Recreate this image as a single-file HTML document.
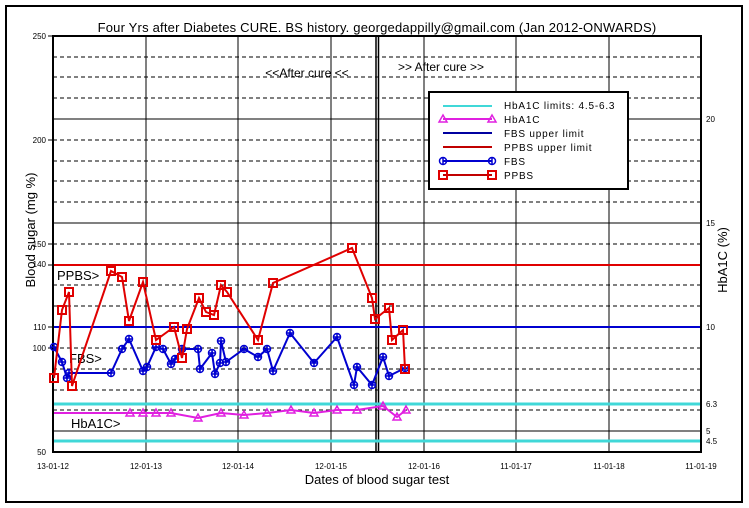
<!DOCTYPE html>
<html><head><meta charset="utf-8"><style>
body{margin:0;background:#fff}
svg{display:block;font-family:"Liberation Sans",Arial,sans-serif}
</style></head><body>
<svg width="749" height="508" viewBox="0 0 749 508" xmlns="http://www.w3.org/2000/svg">
<rect x="0" y="0" width="749" height="508" fill="#fff"/>
<rect x="6" y="6" width="736" height="496" fill="none" stroke="#000" stroke-width="2"/>
<text x="377" y="32" font-size="13" text-anchor="middle" letter-spacing="0.2">Four Yrs after Diabetes CURE. BS history. georgedappilly@gmail.com (Jan 2012-ONWARDS)</text>
<!-- dashed grid -->
<g stroke="#000" stroke-width="1" stroke-dasharray="4,3">
<line x1="53" x2="701" y1="57" y2="57"/><line x1="53" x2="701" y1="77" y2="77"/><line x1="53" x2="701" y1="98" y2="98"/>
<line x1="53" x2="701" y1="140" y2="140"/><line x1="53" x2="701" y1="161" y2="161"/><line x1="53" x2="701" y1="181" y2="181"/><line x1="53" x2="701" y1="202" y2="202"/>
<line x1="53" x2="701" y1="244" y2="244"/><line x1="53" x2="701" y1="285" y2="285"/><line x1="53" x2="701" y1="306" y2="306"/>
<line x1="53" x2="701" y1="348" y2="348"/><line x1="53" x2="701" y1="369" y2="369"/><line x1="53" x2="701" y1="390" y2="390"/><line x1="53" x2="701" y1="410" y2="410"/>
</g>
<g stroke="#000" stroke-width="1">
<line x1="53" x2="701" y1="119" y2="119"/><line x1="53" x2="701" y1="223" y2="223"/><line x1="53" x2="701" y1="431" y2="431"/>
<line x1="146" x2="146" y1="36" y2="452"/><line x1="238" x2="238" y1="36" y2="452"/><line x1="331" x2="331" y1="36" y2="452"/>
<line x1="424" x2="424" y1="36" y2="452"/><line x1="516" x2="516" y1="36" y2="452"/><line x1="609" x2="609" y1="36" y2="452"/>
<line x1="376" x2="376" y1="36" y2="452" stroke-width="1.5"/><line x1="378.5" x2="378.5" y1="36" y2="452" stroke-width="1.5"/>
<line x1="48" x2="53" y1="36" y2="36"/><line x1="48" x2="53" y1="140" y2="140"/><line x1="48" x2="53" y1="244" y2="244"/><line x1="48" x2="53" y1="265" y2="265"/><line x1="48" x2="53" y1="327" y2="327"/><line x1="48" x2="53" y1="348" y2="348"/>
</g>
<!-- limit lines -->
<line x1="53" x2="701" y1="404" y2="404" stroke="#40d8d8" stroke-width="3"/>
<line x1="53" x2="701" y1="441" y2="441" stroke="#40d8d8" stroke-width="3"/>
<line x1="53" x2="701" y1="265" y2="265" stroke="#e00000" stroke-width="2"/>
<line x1="53" x2="701" y1="327" y2="327" stroke="#0000d0" stroke-width="2"/>
<rect x="53" y="36" width="648" height="416" fill="none" stroke="#000" stroke-width="2"/>
<!-- left tick labels -->
<g font-size="8" text-anchor="end">
<text x="46" y="39">250</text><text x="46" y="143">200</text><text x="46" y="247">150</text><text x="46" y="267">140</text>
<text x="46" y="330">110</text><text x="46" y="351">100</text><text x="46" y="455">50</text>
</g>
<g font-size="8">
<text x="706" y="122">20</text><text x="706" y="226">15</text><text x="706" y="330">10</text><text x="706" y="407">6.3</text><text x="706" y="434">5</text><text x="706" y="444">4.5</text>
</g>
<g font-size="8" text-anchor="middle">
<text x="53" y="469">13-01-12</text><text x="146" y="469">12-01-13</text><text x="238" y="469">12-01-14</text><text x="331" y="469">12-01-15</text>
<text x="424" y="469">12-01-16</text><text x="516" y="469">11-01-17</text><text x="609" y="469">11-01-18</text><text x="701" y="469">11-01-19</text>
</g>
<text x="377" y="484" font-size="13" text-anchor="middle">Dates of blood sugar test</text>
<text transform="translate(35,230) rotate(-90)" font-size="13" text-anchor="middle">Blood sugar (mg %)</text>
<text transform="translate(727,260) rotate(-90)" font-size="13" text-anchor="middle">HbA1C (%)</text>
<text x="307" y="77" font-size="12" text-anchor="middle">&lt;&lt;After cure &lt;&lt;</text>
<text x="441" y="71" font-size="12" text-anchor="middle">&gt;&gt; After cure &gt;&gt;</text>
<text x="57" y="280" font-size="13">PPBS&gt;</text>
<text x="69" y="363" font-size="13">FBS&gt;</text>
<text x="71" y="428" font-size="13">HbA1C&gt;</text>
<!-- HbA1C -->
<polyline fill="none" stroke="#e020e0" stroke-width="2" points="54,413 130,413 143,413 156,413 171,413 198,418 221,413 244,415 267,413 291,410 314,413 337,410 357,410 383,406 397,417 406,410"/>
<g fill="none" stroke="#e020e0" stroke-width="1.5">
<path d="M130,409 l-4,7 h8z M143,409 l-4,7 h8z M156,409 l-4,7 h8z M171,409 l-4,7 h8z M198,414 l-4,7 h8z M221,409 l-4,7 h8z M244,411 l-4,7 h8z M267,409 l-4,7 h8z M291,406 l-4,7 h8z M314,409 l-4,7 h8z M337,406 l-4,7 h8z M357,406 l-4,7 h8z M383,402 l-4,7 h8z M397,413 l-4,7 h8z M406,406 l-4,7 h8z"/>
</g>
<!-- FBS -->
<polyline id="fbs" fill="none" stroke="#0000d0" stroke-width="2" points="54,347 62,362 67,378 69,373 111,373 122,349 129,339 143,371 147,367 156,347 163,349 171,364 175,359 182,349 198,349 200,369 212,353 215,374 220,363 221,341 226,362 244,349 258,357 267,349 273,371 290,333 314,363 337,337 354,385 357,367 372,385 383,357 389,376 405,368"/>
<g fill="none" stroke="#0000d0" stroke-width="1.5">
<g id="m">
</g>
</g>
<g stroke="#0000d0" stroke-width="1.5" fill="none">
<path d="M54,347m-3.5,0a3.5,3.5 0 1,0 7,0a3.5,3.5 0 1,0 -7,0m3.5,-3.5v7m-3.5,-3.5h7"/>
<path d="M62,362m-3.5,0a3.5,3.5 0 1,0 7,0a3.5,3.5 0 1,0 -7,0m3.5,-3.5v7m-3.5,-3.5h7"/>
<path d="M67,378m-3.5,0a3.5,3.5 0 1,0 7,0a3.5,3.5 0 1,0 -7,0m3.5,-3.5v7m-3.5,-3.5h7"/>
<path d="M69,373m-3.5,0a3.5,3.5 0 1,0 7,0a3.5,3.5 0 1,0 -7,0m3.5,-3.5v7m-3.5,-3.5h7"/>
<path d="M111,373m-3.5,0a3.5,3.5 0 1,0 7,0a3.5,3.5 0 1,0 -7,0m3.5,-3.5v7m-3.5,-3.5h7"/>
<path d="M122,349m-3.5,0a3.5,3.5 0 1,0 7,0a3.5,3.5 0 1,0 -7,0m3.5,-3.5v7m-3.5,-3.5h7"/>
<path d="M129,339m-3.5,0a3.5,3.5 0 1,0 7,0a3.5,3.5 0 1,0 -7,0m3.5,-3.5v7m-3.5,-3.5h7"/>
<path d="M143,371m-3.5,0a3.5,3.5 0 1,0 7,0a3.5,3.5 0 1,0 -7,0m3.5,-3.5v7m-3.5,-3.5h7"/>
<path d="M147,367m-3.5,0a3.5,3.5 0 1,0 7,0a3.5,3.5 0 1,0 -7,0m3.5,-3.5v7m-3.5,-3.5h7"/>
<path d="M156,347m-3.5,0a3.5,3.5 0 1,0 7,0a3.5,3.5 0 1,0 -7,0m3.5,-3.5v7m-3.5,-3.5h7"/>
<path d="M163,349m-3.5,0a3.5,3.5 0 1,0 7,0a3.5,3.5 0 1,0 -7,0m3.5,-3.5v7m-3.5,-3.5h7"/>
<path d="M171,364m-3.5,0a3.5,3.5 0 1,0 7,0a3.5,3.5 0 1,0 -7,0m3.5,-3.5v7m-3.5,-3.5h7"/>
<path d="M175,359m-3.5,0a3.5,3.5 0 1,0 7,0a3.5,3.5 0 1,0 -7,0m3.5,-3.5v7m-3.5,-3.5h7"/>
<path d="M182,349m-3.5,0a3.5,3.5 0 1,0 7,0a3.5,3.5 0 1,0 -7,0m3.5,-3.5v7m-3.5,-3.5h7"/>
<path d="M198,349m-3.5,0a3.5,3.5 0 1,0 7,0a3.5,3.5 0 1,0 -7,0m3.5,-3.5v7m-3.5,-3.5h7"/>
<path d="M200,369m-3.5,0a3.5,3.5 0 1,0 7,0a3.5,3.5 0 1,0 -7,0m3.5,-3.5v7m-3.5,-3.5h7"/>
<path d="M212,353m-3.5,0a3.5,3.5 0 1,0 7,0a3.5,3.5 0 1,0 -7,0m3.5,-3.5v7m-3.5,-3.5h7"/>
<path d="M215,374m-3.5,0a3.5,3.5 0 1,0 7,0a3.5,3.5 0 1,0 -7,0m3.5,-3.5v7m-3.5,-3.5h7"/>
<path d="M220,363m-3.5,0a3.5,3.5 0 1,0 7,0a3.5,3.5 0 1,0 -7,0m3.5,-3.5v7m-3.5,-3.5h7"/>
<path d="M221,341m-3.5,0a3.5,3.5 0 1,0 7,0a3.5,3.5 0 1,0 -7,0m3.5,-3.5v7m-3.5,-3.5h7"/>
<path d="M226,362m-3.5,0a3.5,3.5 0 1,0 7,0a3.5,3.5 0 1,0 -7,0m3.5,-3.5v7m-3.5,-3.5h7"/>
<path d="M244,349m-3.5,0a3.5,3.5 0 1,0 7,0a3.5,3.5 0 1,0 -7,0m3.5,-3.5v7m-3.5,-3.5h7"/>
<path d="M258,357m-3.5,0a3.5,3.5 0 1,0 7,0a3.5,3.5 0 1,0 -7,0m3.5,-3.5v7m-3.5,-3.5h7"/>
<path d="M267,349m-3.5,0a3.5,3.5 0 1,0 7,0a3.5,3.5 0 1,0 -7,0m3.5,-3.5v7m-3.5,-3.5h7"/>
<path d="M273,371m-3.5,0a3.5,3.5 0 1,0 7,0a3.5,3.5 0 1,0 -7,0m3.5,-3.5v7m-3.5,-3.5h7"/>
<path d="M290,333m-3.5,0a3.5,3.5 0 1,0 7,0a3.5,3.5 0 1,0 -7,0m3.5,-3.5v7m-3.5,-3.5h7"/>
<path d="M314,363m-3.5,0a3.5,3.5 0 1,0 7,0a3.5,3.5 0 1,0 -7,0m3.5,-3.5v7m-3.5,-3.5h7"/>
<path d="M337,337m-3.5,0a3.5,3.5 0 1,0 7,0a3.5,3.5 0 1,0 -7,0m3.5,-3.5v7m-3.5,-3.5h7"/>
<path d="M354,385m-3.5,0a3.5,3.5 0 1,0 7,0a3.5,3.5 0 1,0 -7,0m3.5,-3.5v7m-3.5,-3.5h7"/>
<path d="M357,367m-3.5,0a3.5,3.5 0 1,0 7,0a3.5,3.5 0 1,0 -7,0m3.5,-3.5v7m-3.5,-3.5h7"/>
<path d="M372,385m-3.5,0a3.5,3.5 0 1,0 7,0a3.5,3.5 0 1,0 -7,0m3.5,-3.5v7m-3.5,-3.5h7"/>
<path d="M383,357m-3.5,0a3.5,3.5 0 1,0 7,0a3.5,3.5 0 1,0 -7,0m3.5,-3.5v7m-3.5,-3.5h7"/>
<path d="M389,376m-3.5,0a3.5,3.5 0 1,0 7,0a3.5,3.5 0 1,0 -7,0m3.5,-3.5v7m-3.5,-3.5h7"/>
<path d="M405,368m-3.5,0a3.5,3.5 0 1,0 7,0a3.5,3.5 0 1,0 -7,0m3.5,-3.5v7m-3.5,-3.5h7"/>
</g>
<!-- PPBS -->
<polyline fill="none" stroke="#e00000" stroke-width="2" points="54,378 62,310 69,292 72,386 111,271 122,277 129,321 143,282 156,340 174,327 182,358 187,329 199,298 206,312 214,315 221,285 227,292 258,340 273,283 352,248 372,298 375,319 389,308 392,340 403,330 405,369"/>
<g fill="none" stroke="#e00000" stroke-width="2">
<rect x="50" y="374" width="8" height="8"/><rect x="58" y="306" width="8" height="8"/><rect x="65" y="288" width="8" height="8"/><rect x="68" y="382" width="8" height="8"/>
<rect x="107" y="267" width="8" height="8"/><rect x="118" y="273" width="8" height="8"/><rect x="125" y="317" width="8" height="8"/><rect x="139" y="278" width="8" height="8"/>
<rect x="152" y="336" width="8" height="8"/><rect x="170" y="323" width="8" height="8"/><rect x="178" y="354" width="8" height="8"/><rect x="183" y="325" width="8" height="8"/>
<rect x="195" y="294" width="8" height="8"/><rect x="202" y="308" width="8" height="8"/><rect x="210" y="311" width="8" height="8"/><rect x="217" y="281" width="8" height="8"/>
<rect x="223" y="288" width="8" height="8"/><rect x="254" y="336" width="8" height="8"/><rect x="269" y="279" width="8" height="8"/><rect x="348" y="244" width="8" height="8"/>
<rect x="368" y="294" width="8" height="8"/><rect x="371" y="315" width="8" height="8"/><rect x="385" y="304" width="8" height="8"/><rect x="388" y="336" width="8" height="8"/>
<rect x="399" y="326" width="8" height="8"/><rect x="401" y="365" width="8" height="8"/>
</g>
<!-- legend -->
<rect x="429" y="92" width="199" height="97" fill="#fff" stroke="#000" stroke-width="2"/>
<g font-size="10" letter-spacing="0.8">
<line x1="443" x2="492" y1="106" y2="106" stroke="#40d8d8" stroke-width="2"/><text x="504" y="109">HbA1C limits: 4.5-6.3</text>
<line x1="443" x2="492" y1="119" y2="119" stroke="#e020e0" stroke-width="2"/>
<path d="M443,115 l-4,7 h8z M492,115 l-4,7 h8z" fill="none" stroke="#e020e0" stroke-width="1.5"/><text x="504" y="123">HbA1C</text>
<line x1="443" x2="492" y1="133" y2="133" stroke="#0000a0" stroke-width="2"/><text x="504" y="137">FBS upper limit</text>
<line x1="443" x2="492" y1="147" y2="147" stroke="#c00000" stroke-width="2"/><text x="504" y="151">PPBS upper limit</text>
<line x1="443" x2="492" y1="161" y2="161" stroke="#0000d0" stroke-width="2"/>
<path d="M443,161m-3.5,0a3.5,3.5 0 1,0 7,0a3.5,3.5 0 1,0 -7,0m3.5,-3.5v7 M492,161m-3.5,0a3.5,3.5 0 1,0 7,0a3.5,3.5 0 1,0 -7,0m3.5,-3.5v7" fill="none" stroke="#0000d0" stroke-width="1.5"/><text x="504" y="165">FBS</text>
<line x1="443" x2="492" y1="175" y2="175" stroke="#c00000" stroke-width="2"/>
<rect x="439" y="171" width="8" height="8" fill="none" stroke="#e00000" stroke-width="2"/><rect x="488" y="171" width="8" height="8" fill="none" stroke="#e00000" stroke-width="2"/><text x="504" y="179">PPBS</text>
</g>
</svg>
</body></html>
